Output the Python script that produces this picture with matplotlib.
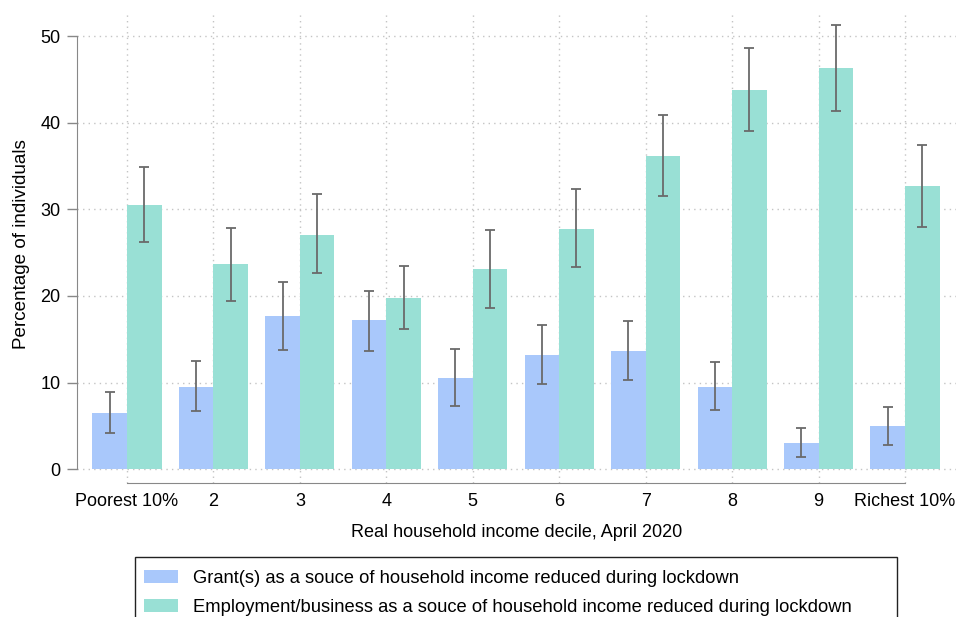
import numpy as np
import matplotlib
matplotlib.use("Agg")
from matplotlib import pyplot as plt
from matplotlib.patches import Rectangle

# deciles of real household income, April 2020
deciles = ["Poorest 10%", "2", "3", "4", "5", "6", "7", "8", "9", "Richest 10%"]

# grant(s) as a source of income reduced during lockdown (%), with 95% CI
grant = [6.5, 9.5, 17.7, 17.2, 10.5, 13.2, 13.7, 9.5, 3.0, 5.0]
grant_lo = [4.2, 6.7, 13.8, 13.7, 7.3, 9.8, 10.3, 6.8, 1.35, 2.8]
grant_hi = [8.9, 12.5, 21.6, 20.6, 13.9, 16.6, 17.1, 12.4, 4.8, 7.2]

# employment/business as a source of income reduced during lockdown (%), with 95% CI
employ = [30.5, 23.7, 27.1, 19.8, 23.1, 27.7, 36.2, 43.8, 46.3, 32.7]
employ_lo = [26.2, 19.4, 22.7, 16.2, 18.6, 23.4, 31.5, 39.1, 41.4, 28.0]
employ_hi = [34.9, 27.9, 31.8, 23.5, 27.6, 32.3, 40.9, 48.6, 51.3, 37.4]

blue = "#a9c8fb"
green = "#99e0d5"
errcol = "#6a6a6a"

plt.rcParams["font.family"] = ["Liberation Sans", "DejaVu Sans"]
plt.rcParams["font.size"] = 13

fig = plt.figure(figsize=(9.56, 6.17), dpi=100)
W, H = 956, 617
# axes box in pixels: left 77, right 956, top 12, bottom 483
ax = fig.add_axes([77 / W, 1 - 483 / H, (956 - 77) / W, (483 - 12) / H])

x = np.arange(len(deciles))
w = 0.4
g_err = [np.array(grant) - np.array(grant_lo), np.array(grant_hi) - np.array(grant)]
e_err = [np.array(employ) - np.array(employ_lo), np.array(employ_hi) - np.array(employ)]

ax.bar(x - w / 2, grant, width=w, color=blue, label="Grant(s) as a souce of household income reduced during lockdown", zorder=2)
ax.bar(x + w / 2, employ, width=w, color=green, label="Employment/business as a souce of household income reduced during lockdown", zorder=2)
ax.errorbar(x - w / 2, grant, yerr=g_err, fmt="none", ecolor=errcol, elinewidth=1.3, capsize=3.8, capthick=1.3, zorder=4)
ax.errorbar(x + w / 2, employ, yerr=e_err, fmt="none", ecolor=errcol, elinewidth=1.3, capsize=3.8, capthick=1.3, zorder=4)

ax.set_xlim(-0.578, 9.59)
ax.set_ylim(-1.6, 52.8)

# dotted grid over the bars
ax.grid(True, linestyle=(0, (1, 3)), color="#c4c4c4", linewidth=1.0, zorder=3)

ax.set_yticks([0, 10, 20, 30, 40, 50])
ax.set_xticks(x)
ax.set_xticklabels(deciles)
ax.tick_params(axis="x", length=0, pad=7)
ax.tick_params(axis="y", length=7, width=1.0, color="#888888", pad=5)

for s in ["top", "right"]:
    ax.spines[s].set_visible(False)
ax.spines["left"].set_bounds(0, 50)
ax.spines["bottom"].set_bounds(0, 9)
ax.spines["left"].set_color("#888888")
ax.spines["bottom"].set_color("#888888")

ax.set_xlabel("Real household income decile, April 2020", labelpad=10)
ax.set_ylabel("Percentage of individuals", fontsize=13.6)
ax.yaxis.set_label_coords(-0.0535, 0.507)

# legend: entries without frame, box drawn separately (runs past bottom edge)
leg = fig.legend(loc="upper left", bbox_to_anchor=(136 / W, 1 - 562 / H),
                 frameon=False, fontsize=13.2, handlelength=1.85, handleheight=0.7,
                 handletextpad=0.8, labelspacing=0.62, borderpad=0.45, borderaxespad=0)
fig.patches.append(Rectangle((135 / W, 1 - 640 / H), (897 - 135) / W, (640 - 557) / H,
                             transform=fig.transFigure, fill=False, edgecolor="#222222",
                             linewidth=1.0))

fig.savefig("out.png", dpi=100)
